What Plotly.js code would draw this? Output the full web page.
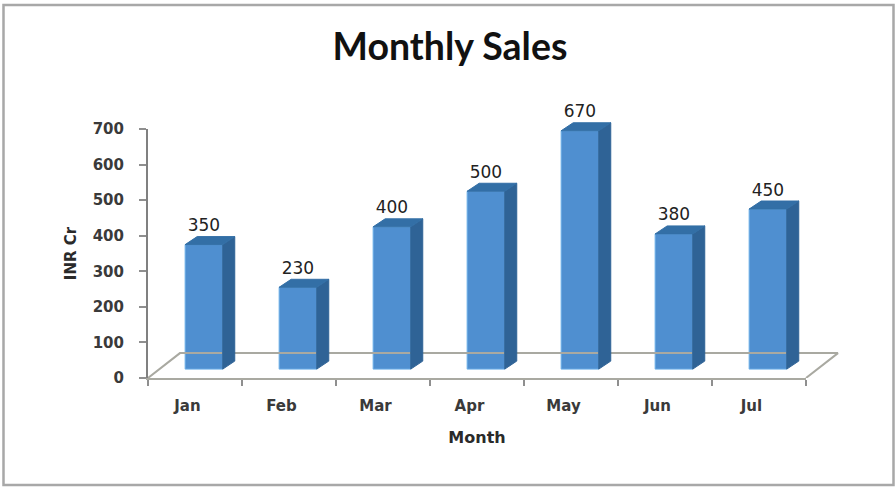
<!DOCTYPE html>
<html><head><meta charset="utf-8">
<script src="https://cdn.plot.ly/plotly-3.0.1.min.js"></script>
<style>html,body{margin:0;padding:0;background:#fff}#c{width:895px;height:487px}</style>
</head><body><div id="c"></div>
<script>
const months = ["Jan","Feb","Mar","Apr","May","Jun","Jul"];
const sales = [350,230,400,500,670,380,450];
const yTicks = [0,100,200,300,400,500,600,700];

// pseudo-3D projection, in axis units
const depthX = 0.128, depthY = 22.5;   // bar depth
const floorX = 0.34, floorY = 70;      // floor depth
const lift = 25, shift = 0.095, barW = 0.40, labelGap = 50;

const cx = months.map((m,i)=>i+0.5+shift);
const tops = sales.map(v=>v+lift);

const sideX=[], sideY=[], topX=[], topY=[];
cx.forEach((c,i)=>{
  const r=c+barW/2, l=c-barW/2, t=tops[i];
  sideX.push(r,r+depthX,r+depthX,r,r,null);
  sideY.push(lift,lift+depthY,t+depthY,t,lift,null);
  topX.push(l,l+depthX,r+depthX,r,l,null);
  topY.push(t,t+depthY,t+depthY,t,t,null);
});

const tickFont={family:'"DejaVu Sans",sans-serif',size:15,color:'#3a3a3a',weight:700};
const common={showlegend:false,hoverinfo:'skip'};
const traces=[
 // carriers of the visible axes
 {...common,type:'scatter',mode:'none',x:months.map((m,i)=>i+0.5),y:sales,xaxis:'x',yaxis:'y'},
 {...common,type:'scatter',mode:'none',x:months.map((m,i)=>i+0.5),y:sales,xaxis:'x2',yaxis:'y'},
 // marks, on a hidden larger pair of axes with the same scale
 {...common,type:'scatter',mode:'lines',xaxis:'x3',yaxis:'y3',
  x:[0,floorX,7+floorX,7],y:[0,floorY,floorY,0],line:{color:'#a9a9a1',width:2}},
 {...common,type:'bar',xaxis:'x3',yaxis:'y3',x:cx,y:sales,base:lift,width:barW,
  marker:{color:'#4f8fd0',line:{color:'#6db0e8',width:1}}},
 {...common,type:'scatter',mode:'lines',xaxis:'x3',yaxis:'y3',x:sideX,y:sideY,fill:'toself',fillcolor:'#2f6396',
  line:{color:'#2f6396',width:1}},
 {...common,type:'scatter',mode:'lines',xaxis:'x3',yaxis:'y3',x:topX,y:topY,fill:'toself',fillcolor:'#336fa6',
  line:{color:'#336fa6',width:1}},
 {...common,type:'scatter',mode:'text',xaxis:'x3',yaxis:'y3',x:cx,y:tops.map(t=>t+labelGap),text:sales.map(String),
  textposition:'middle center',textfont:{family:'"DejaVu Sans",sans-serif',size:17,color:'#222'}}
];

const plotW=705, plotH=285, axisW=658, axisH=249;
const hidden={visible:false,showgrid:false,zeroline:false};
const layout={
 width:895,height:487,paper_bgcolor:'#fff',plot_bgcolor:'rgba(0,0,0,0)',
 margin:{l:148,r:895-148-plotW,t:487-109-plotH,b:109},showlegend:false,
 title:{text:'Monthly Sales',x:450/895,xanchor:'center',y:1-47/487,yanchor:'middle',
   font:{family:'Lato, sans-serif',size:37.5,color:'#111',weight:700}},
 xaxis:{domain:[0,axisW/plotW],range:[0,7],anchor:'y',tickvals:months.map((m,i)=>i+0.42),ticktext:months,ticks:'',ticklabelstandoff:17,
   showgrid:false,zeroline:false,showline:false,tickfont:tickFont,
   title:{text:'Month',standoff:17,font:{family:'"DejaVu Sans",sans-serif',size:16,color:'#2a2a2a',weight:700}}},
 xaxis2:{domain:[0,axisW/plotW],range:[0,7],overlaying:'x',side:'bottom',anchor:'y',tickvals:months.map((m,i)=>i).concat(7),
   ticktext:['','','','','','','',''],ticks:'outside',ticklen:6,tickcolor:'#8f8f8f',tickwidth:2,
   showgrid:false,zeroline:false,showline:true,linecolor:'#a9a9a1',linewidth:2},
 yaxis:{domain:[0,axisH/plotH],range:[0,700],anchor:'x',tickvals:yTicks,ticks:'outside',ticklen:7,tickcolor:'#8f8f8f',tickwidth:2,
   ticklabelstandoff:12,showgrid:false,zeroline:false,showline:true,linecolor:'#808080',linewidth:2,tickfont:tickFont,
   title:{text:'INR Cr',standoff:12,font:{family:'"DejaVu Sans",sans-serif',size:15,color:'#2a2a2a',weight:700}}},
 xaxis3:{...hidden,domain:[0,1],range:[0,plotW*7/axisW],anchor:'y3'},
 yaxis3:{...hidden,domain:[0,1],range:[0,plotH*700/axisH],anchor:'x3'},
 shapes:[{type:'rect',xref:'paper',yref:'paper',layer:'below',
   x0:(3.5-148)/plotW,x1:(893.5-148)/plotW,y0:(378-485)/plotH,y1:(378-5)/plotH,
   line:{color:'#a8a8a8',width:2.5},fillcolor:'rgba(0,0,0,0)'}]
};
Plotly.newPlot('c',traces,layout,{displayModeBar:false,staticPlot:true});
</script></body></html>
